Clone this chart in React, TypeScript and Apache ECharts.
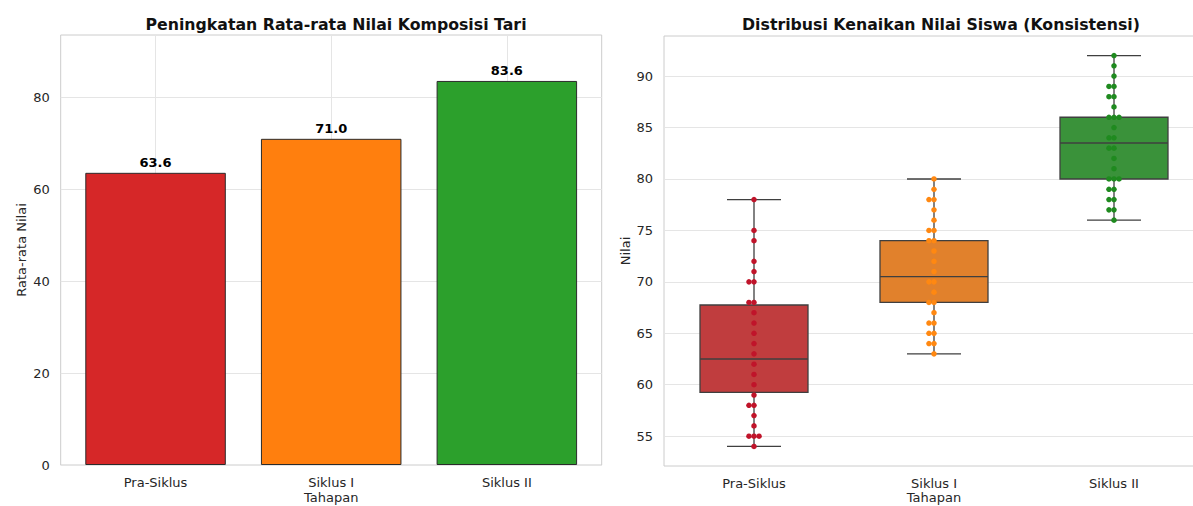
import React, { useEffect, useRef } from "react";
import * as echarts from "echarts";

const categories = ["Pra-Siklus", "Siklus I", "Siklus II"];
const meanScores = [63.6, 71.0, 83.6];
const barColors = ["#d62728", "#ff7f0e", "#2ca02c"];
const boxColors = ["#c03d3e", "#e1812c", "#3a923a"];
const pointColors = ["#c0142a", "#ff8811", "#1f8a1f"];

// [min, Q1, median, Q3, max]
const boxStats = [
  [54, 59.25, 62.5, 67.75, 78],
  [63, 68, 70.5, 74, 80],
  [76, 80, 83.5, 86, 92],
];

const praSiklusScores = [78, 75, 74, 72, 71, 70, 70, 68, 68, 67, 66, 65, 64, 63, 62, 61, 60, 59, 58, 58, 57, 56, 55, 55, 55, 54];
const siklus1Scores = [80, 79, 78, 78, 77, 76, 75, 75, 74, 74, 73, 72, 71, 70, 70, 69, 68, 68, 67, 66, 66, 65, 65, 64, 64, 63];
const siklus2Scores = [92, 91, 90, 89, 89, 88, 88, 87, 86, 86, 86, 85, 84, 84, 83, 83, 82, 81, 80, 80, 80, 79, 79, 78, 78, 77, 77, 76];
const scoreGroups = [praSiklusScores, siklus1Scores, siklus2Scores];

const leftTicks = [0, 20, 40, 60, 80];
const rightTicks = [55, 60, 65, 70, 75, 80, 85, 90];

const FONT = "DejaVu Sans";
const TXT = "#262626";
const GRIDC = "#e5e5e5";
const FRAME = "#cccccc";
const TICK_FS = 13;
const TITLE_FS = 15.75;

function swarmPoints(groupIdx: number, vals: number[]) {
  const seen: Record<string, number> = {};
  return vals.map((v) => {
    const k = String(v);
    const n = seen[k] || 0;
    seen[k] = n + 1;
    const slot = n === 0 ? 0 : n % 2 === 1 ? -Math.ceil(n / 2) : Math.ceil(n / 2);
    return [groupIdx + slot * 0.028, v];
  });
}

export default function App() {
  const ref = useRef<HTMLDivElement>(null);
  useEffect(() => {
    if (!ref.current) return;
    const chart = echarts.init(ref.current, null, { renderer: "svg" });
    const scatterSeries = scoreGroups.map((g, i) => ({
      type: "scatter",
      xAxisIndex: 2,
      yAxisIndex: 1,
      symbolSize: 5.5,
      z: 5,
      itemStyle: { color: pointColors[i], opacity: 1 },
      data: swarmPoints(i, g),
    }));
    const nameStyle = { color: TXT, fontSize: TICK_FS, fontFamily: FONT };
    const option: any = {
      animation: false,
      backgroundColor: "#ffffff",
      textStyle: { fontFamily: FONT },
      title: [
        {
          text: "Peningkatan Rata-rata Nilai Komposisi Tari",
          left: 331,
          top: 11,
          textAlign: "center",
          textStyle: { fontFamily: FONT, fontSize: TITLE_FS, fontWeight: "bold", color: "#111" },
        },
        {
          text: "Distribusi Kenaikan Nilai Siswa (Konsistensi)",
          left: 936,
          top: 11,
          textAlign: "center",
          textStyle: { fontFamily: FONT, fontSize: TITLE_FS, fontWeight: "bold", color: "#111" },
        },
      ],
      grid: [
        {
          left: 60.7, top: 35, width: 541, height: 430,
          outerBoundsMode: "none", containLabel: false,
          show: true, borderColor: FRAME, borderWidth: 1, backgroundColor: "#fff",
        },
        {
          left: 664, top: 36, width: 540, height: 430,
          outerBoundsMode: "none", containLabel: false,
          show: true, borderColor: FRAME, borderWidth: 1, backgroundColor: "#fff",
        },
      ],
      xAxis: [
        {
          type: "value",
          gridIndex: 0,
          min: -0.54,
          max: 2.54,
          axisLine: { show: false },
          axisTick: { show: false, customValues: [0, 1, 2] },
          axisLabel: {
            customValues: [0, 1, 2],
            formatter: (v: number) => categories[Math.round(v)] ?? "",
            color: TXT,
            fontSize: TICK_FS,
            fontFamily: FONT,
            margin: 11,
          },
          splitLine: { show: true, lineStyle: { color: GRIDC, width: 1 } },
          name: "Tahapan",
          nameLocation: "middle",
          nameGap: 26,
          nameMoveOverlap: false,
          nameTextStyle: nameStyle,
        },
        {
          type: "category",
          gridIndex: 1,
          data: categories,
          axisLine: { show: false },
          axisTick: { show: false },
          splitLine: { show: false },
          axisLabel: { color: TXT, fontSize: TICK_FS, fontFamily: FONT, margin: 11 },
          name: "Tahapan",
          nameLocation: "middle",
          nameGap: 25,
          nameMoveOverlap: false,
          nameTextStyle: nameStyle,
        },
        {
          type: "value",
          gridIndex: 1,
          min: -0.5,
          max: 2.5,
          show: false,
          splitLine: { show: false },
        },
      ],
      yAxis: [
        {
          type: "value",
          gridIndex: 0,
          min: 0,
          max: 93.6,
          axisLine: { show: false },
          axisTick: { show: false, customValues: leftTicks },
          axisLabel: { customValues: leftTicks, color: TXT, fontSize: TICK_FS, fontFamily: FONT, margin: 11 },
          splitLine: { show: true, lineStyle: { color: GRIDC, width: 1 } },
          name: "Rata-rata Nilai",
          nameLocation: "middle",
          nameGap: 33,
          nameTextStyle: nameStyle,
        },
        {
          type: "value",
          gridIndex: 1,
          min: 52.1,
          max: 93.9,
          axisLine: { show: false },
          axisTick: { show: false, customValues: rightTicks },
          axisLabel: { customValues: rightTicks, color: TXT, fontSize: TICK_FS, fontFamily: FONT, margin: 11 },
          splitLine: { show: true, lineStyle: { color: GRIDC, width: 1 } },
          name: "Nilai",
          nameLocation: "middle",
          nameGap: 32,
          nameTextStyle: nameStyle,
        },
      ],
      series: [
        {
          type: "bar",
          xAxisIndex: 0,
          yAxisIndex: 0,
          barWidth: 140.5,
          z: 3,
          data: meanScores.map((v, i) => ({
            value: [i, v],
            itemStyle: { color: barColors[i], borderColor: "#2b2b2b", borderWidth: 1 },
          })),
          label: {
            show: true,
            position: "top",
            distance: 4,
            formatter: (p: any) => p.value[1].toFixed(1),
            fontFamily: FONT,
            fontSize: 13,
            fontWeight: "bold",
            color: "#000",
          },
        },
        {
          type: "custom",
          xAxisIndex: 2,
          yAxisIndex: 1,
          z: 3,
          data: boxStats.map((s, i) => [i, ...s]),
          encode: { x: 0, y: [1, 2, 3, 4, 5] },
          renderItem: (params: any, api: any) => {
            const i = api.value(0);
            const mn = api.value(1);
            const q1 = api.value(2);
            const md = api.value(3);
            const q3 = api.value(4);
            const mx = api.value(5);
            const lt = api.coord([i - 0.3, q3]);
            const rb = api.coord([i + 0.3, q1]);
            const c = (x: number, y: number) => api.coord([x, y]);
            const edge = { stroke: "#3f3f3f", lineWidth: 1.3 };
            const line = (a: number[], b: number[]) => ({
              type: "line",
              shape: { x1: a[0], y1: a[1], x2: b[0], y2: b[1] },
              style: edge,
            });
            return {
              type: "group",
              children: [
                line(c(i, q3), c(i, mx)),
                line(c(i, q1), c(i, mn)),
                line(c(i - 0.15, mx), c(i + 0.15, mx)),
                line(c(i - 0.15, mn), c(i + 0.15, mn)),
                {
                  type: "rect",
                  shape: { x: lt[0], y: lt[1], width: rb[0] - lt[0], height: rb[1] - lt[1] },
                  style: { fill: boxColors[params.dataIndex], stroke: "#3f3f3f", lineWidth: 1.3 },
                },
                line(c(i - 0.3, md), c(i + 0.3, md)),
              ],
            };
          },
        },
        ...scatterSeries,
      ],
    };
    chart.setOption(option);
    return () => chart.dispose();
  }, []);
  return <div ref={ref} style={{ position: "absolute", left: 0, top: 0, width: 1193, height: 506 }} />;
}
